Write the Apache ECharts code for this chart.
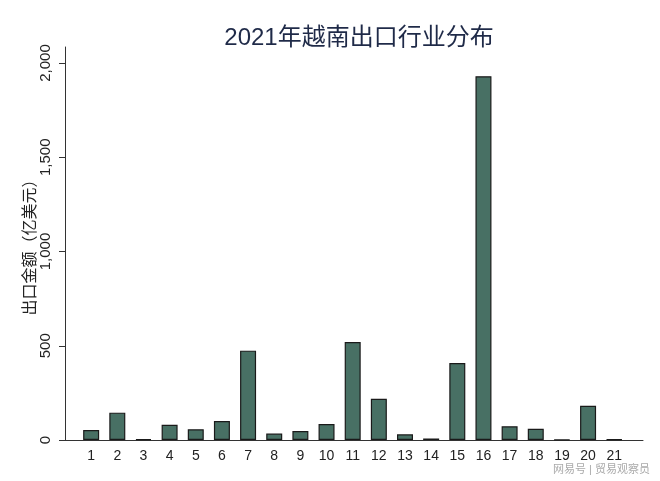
<!DOCTYPE html>
<html>
<head>
<meta charset="utf-8">
<script src="https://cdn.jsdelivr.net/npm/echarts@6/dist/echarts.min.js"></script>
<style>
  html, body { margin: 0; padding: 0; background: #fff; }
  #chart { width: 660px; height: 481px; }
</style>
</head>
<body>
<div id="chart"></div>
<script>
// 行业编号
var industries = [1, 2, 3, 4, 5, 6, 7, 8, 9, 10, 11, 12, 13, 14, 15, 16, 17, 18, 19, 20, 21];
// 出口金额（亿美元）
var exportValues = [53, 145, 5, 81, 57, 101, 474, 34, 48, 85, 520, 219, 30, 8, 408, 1930, 73, 60, 2, 182, 3];
// y 轴刻度
var yTicks = [0, 500, 1000, 1500, 2000];

(function () {
    var myChart = echarts.init(document.getElementById('chart'));
    var font = '"Liberation Sans", Arial, "Noto Sans CJK SC", sans-serif';

    // 把编号和金额拼成 [x, y]
    var barData = industries.map(function (n, i) {
        return [n, exportValues[i]];
    });

    var option = {
        animation: false,
        backgroundColor: '#fff',
        title: {
            text: '2021年越南出口行业分布',
            left: 354,
            textAlign: 'center',
            top: 21,
            textStyle: {
                color: '#1f2a48',
                fontSize: 24,
                fontWeight: 'normal',
                fontFamily: font
            }
        },
        graphic: [{
            type: 'text',
            right: 10,
            bottom: 6,
            style: {
                text: '网易号 | 贸易观察员',
                fill: '#aaa',
                fontSize: 11,
                fontFamily: font
            }
        }],
        grid: {
            left: 65,
            right: 17,
            top: 47,
            bottom: 41,
            containLabel: false
        },
        xAxis: {
            type: 'value',
            min: 0,
            max: 22.1,
            interval: 1,
            splitLine: { show: false },
            axisTick: { show: false },
            axisLine: {
                show: true,
                lineStyle: { color: '#333', width: 1 }
            },
            axisLabel: {
                customValues: industries,
                color: '#222',
                fontSize: 14,
                margin: 9,
                fontFamily: font
            }
        },
        yAxis: {
            type: 'value',
            min: 0,
            max: 2085,
            name: '出口金额（亿美元）',
            nameLocation: 'middle',
            nameRotate: 90,
            nameGap: 26,
            nameMoveOverlap: false,
            nameTextStyle: {
                color: '#222',
                fontSize: 16,
                fontFamily: font
            },
            splitLine: { show: false },
            axisLine: {
                show: true,
                lineStyle: { color: '#333', width: 1 }
            },
            axisTick: {
                show: true,
                length: 6,
                customValues: yTicks,
                lineStyle: { color: '#333' }
            },
            axisLabel: {
                customValues: yTicks,
                rotate: 90,
                margin: 12,
                color: '#222',
                fontSize: 15,
                fontFamily: font,
                formatter: function (v) {
                    return v.toLocaleString('en-US');
                }
            }
        },
        series: [{
            type: 'bar',
            data: barData,
            barWidth: 16,
            itemStyle: {
                color: '#487064',
                borderColor: '#1a1a1a',
                borderWidth: 1.2
            }
        }]
    };

    myChart.setOption(option);
    window.addEventListener('resize', function () {
        myChart.resize();
    });
})();
</script>
</body>
</html>
